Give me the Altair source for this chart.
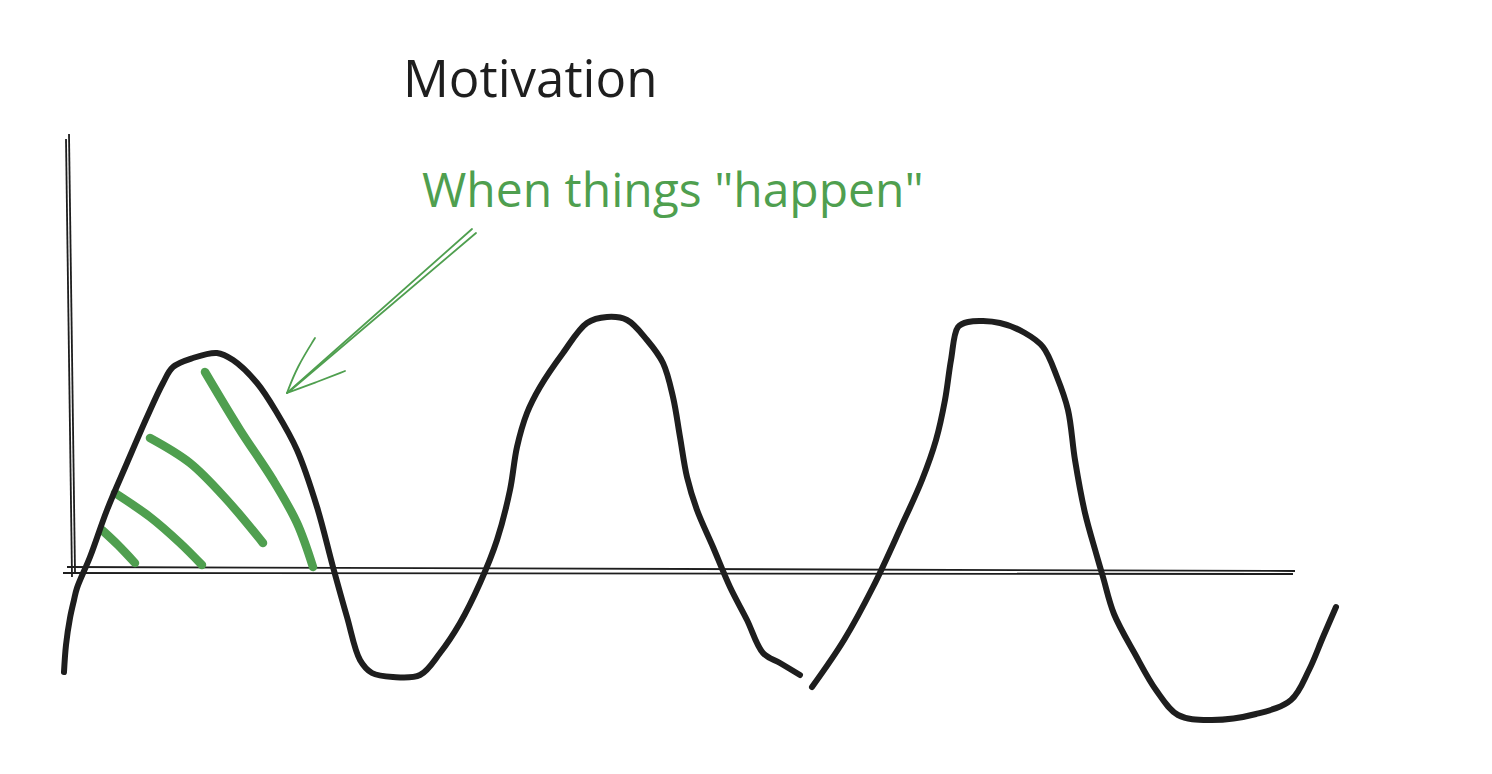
import pandas as pd
import altair as alt

# ---------- data (page pixel coordinates) ----------

# wave, first pen stroke (breaks near x=805)
wave1_x = [64, 66, 70, 74, 77, 90, 107, 127, 147, 163, 173, 193, 217, 233, 257, 277, 297,
           317, 333, 347, 360, 372, 393, 420, 440, 460, 480, 497, 510, 517, 527, 540, 563,
           587, 607, 627, 647, 663, 673, 680, 687, 697, 713, 730, 747, 763, 780, 800]
wave1_y = [672, 645, 618, 600, 588, 557, 510, 463, 417, 383, 367, 358, 353, 360, 383, 413, 450,
           507, 567, 617, 660, 673, 677, 675, 653, 623, 583, 540, 490, 447, 413, 387, 353,
           323, 317, 320, 340, 363, 397, 437, 477, 510, 547, 587, 620, 653, 663, 675]

# wave, second pen stroke
wave2_x = [812, 844, 873, 901, 922, 936, 945, 951, 958, 968, 1000, 1025, 1043, 1057, 1068,
           1075, 1085, 1096, 1103, 1114, 1135, 1156, 1178, 1210, 1256, 1291, 1309, 1323, 1336]
wave2_y = [687, 640, 587, 527, 480, 440, 400, 360, 327, 322, 323, 333, 347, 377, 410,
           460, 513, 553, 577, 614, 654, 690, 715, 720, 714, 700, 670, 637, 607]

# green hatching under the first hump
hatch_id = [1, 1, 1,
            2, 2, 2, 2,
            3, 3, 3, 3,
            4, 4, 4, 4, 4]
hatch_x = [102, 118, 135,
           115, 150, 180, 202,
           150, 190, 227, 263,
           205, 240, 273, 297, 313]
hatch_y = [530, 545, 563,
           493, 517, 543, 565,
           438, 463, 500, 543,
           372, 430, 480, 523, 567]

# hand drawn arrow (shaft drawn twice, two barbs)
arrow_id = ["a", "a", "b", "b", "c", "c", "c", "d", "d", "d"]
arrow_x = [472, 287, 476, 291, 315, 297, 287, 345, 317, 287]
arrow_y = [229, 393, 233, 390, 338, 367, 393, 371, 382, 393]

# axes, each drawn as two sketchy strokes
axis_x1 = [66, 69, 67, 63]
axis_y1 = [139, 134, 567, 573]
axis_x2 = [72, 75, 1295, 1293]
axis_y2 = [577, 572, 571, 574]

labels = ["Motivation", "When things \"happen\""]
label_x = [403, 422]
label_y = [97, 207]
label_color = ["#1e1e1e", "#4f9f4f"]
label_size = [51, 48]

# ---------- chart ----------

INK = "#1e1e1e"
GREEN = "#4f9f4f"

xs = alt.Scale(domain=[8, 1484], nice=False, zero=False)
ys = alt.Scale(domain=[8, 766], nice=False, zero=False, reverse=True)


def X(field):
    return alt.X(f"{field}:Q", scale=xs, axis=None)


def Y(field):
    return alt.Y(f"{field}:Q", scale=ys, axis=None)


waves = pd.concat([
    pd.DataFrame({"x": wave1_x, "y": wave1_y, "stroke": 1}),
    pd.DataFrame({"x": wave2_x, "y": wave2_y, "stroke": 2}),
])
hatch = pd.DataFrame({"id": hatch_id, "x": hatch_x, "y": hatch_y})
hatch["i"] = range(len(hatch))
arrow = pd.DataFrame({"id": arrow_id, "x": arrow_x, "y": arrow_y})
arrow["i"] = range(len(arrow))
axes = pd.DataFrame({"x": axis_x1, "y": axis_y1, "x2": axis_x2, "y2": axis_y2})
text = pd.DataFrame({"t": labels, "x": label_x, "y": label_y, "c": label_color, "s": label_size})

axis_layer = alt.Chart(axes).mark_rule(color=INK, strokeWidth=1.8).encode(
    x=X("x"), y=Y("y"), x2="x2:Q", y2="y2:Q"
)

wave_layer = alt.Chart(waves).mark_line(
    color=INK, strokeWidth=6, interpolate="catmull-rom", strokeCap="round", strokeJoin="round"
).encode(x=X("x"), y=Y("y"), detail="stroke:N")

hatch_layer = alt.Chart(hatch).mark_line(
    color=GREEN, strokeWidth=8.5, interpolate="catmull-rom", strokeCap="round"
).encode(x=X("x"), y=Y("y"), detail="id:N", order="i:Q")

arrow_layer = alt.Chart(arrow).mark_line(
    color=GREEN, strokeWidth=1.8, interpolate="basis", strokeCap="round"
).encode(x=X("x"), y=Y("y"), detail="id:N", order="i:Q")

text_layer = alt.Chart(text).mark_text(
    align="left", baseline="alphabetic", font="Open Sans"
).encode(
    x=X("x"), y=Y("y"), text="t:N",
    color=alt.Color("c:N", scale=None),
    size=alt.Size("s:Q", scale=None),
)

chart = (
    alt.layer(axis_layer, hatch_layer, wave_layer, arrow_layer, text_layer)
    .properties(width=1476, height=758, padding=0, autosize="none", background="white")
    .configure_view(stroke=None)
)

chart.save("out.html", embed_options={"renderer": "svg", "actions": False})
